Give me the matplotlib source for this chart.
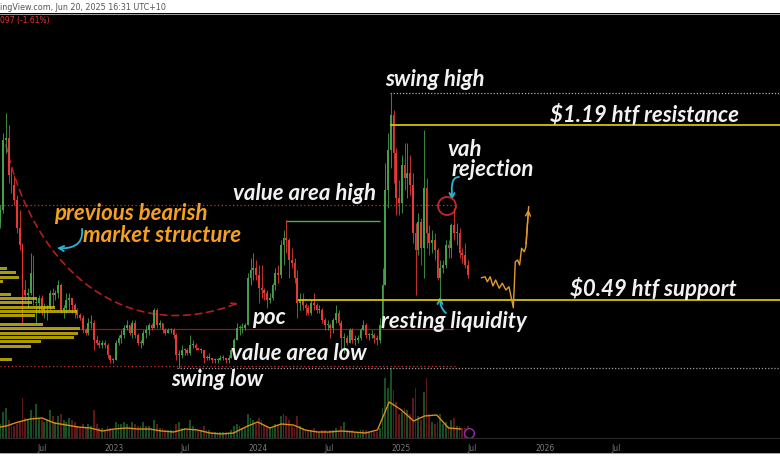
import numpy as np
import pandas as pd
import matplotlib
matplotlib.use('Agg')
import matplotlib.pyplot as plt
import matplotlib.dates as mdates
import matplotlib.transforms as mtransforms
from matplotlib.path import Path
from matplotlib.patches import FancyArrowPatch, Circle, Rectangle

# weekly candles, weeks starting Mon 2022-03-14
first_open = 0.80
closes = [
    0.85, 1.13, 1.14, 0.99, 0.95, 0.89, 0.78, 0.71, 0.53, 0.51, 0.52, 0.60,
    0.48, 0.48, 0.50, 0.45, 0.46, 0.46, 0.52, 0.51, 0.52, 0.55, 0.45, 0.46, 0.49,
    0.50, 0.47, 0.45, 0.43, 0.42, 0.37, 0.36, 0.40, 0.40, 0.33, 0.32, 0.31, 0.32,
    0.31, 0.27, 0.25, 0.25,
    # 2023
    0.32, 0.34, 0.35, 0.38, 0.39, 0.36, 0.40, 0.35, 0.32, 0.32, 0.36, 0.37, 0.39,
    0.38, 0.45, 0.39, 0.40, 0.37, 0.36, 0.37, 0.37, 0.35, 0.27, 0.27, 0.29, 0.29,
    0.28, 0.31, 0.31, 0.30, 0.29, 0.29, 0.26, 0.26, 0.26, 0.25, 0.25, 0.25, 0.26,
    0.26, 0.25, 0.26, 0.29, 0.33, 0.38, 0.38, 0.38, 0.39, 0.58, 0.61, 0.62, 0.59,
    # 2024
    0.54, 0.53, 0.52, 0.49, 0.50, 0.55, 0.60, 0.59, 0.71, 0.74, 0.73, 0.65, 0.64,
    0.58, 0.48, 0.49, 0.47, 0.46, 0.44, 0.48, 0.47, 0.45, 0.45, 0.41, 0.39, 0.39,
    0.38, 0.41, 0.44, 0.40, 0.34, 0.34, 0.32, 0.37, 0.33, 0.33, 0.34, 0.37, 0.39,
    0.35, 0.35, 0.35, 0.34, 0.33, 0.39, 0.55, 0.93, 1.09, 1.23, 1.08, 0.90, 0.88, 1.03,
    # 2025
    0.98, 1.00, 0.95, 0.76, 0.69, 0.80, 0.70, 0.94, 0.76, 0.72, 0.73, 0.69, 0.58,
    0.62, 0.63, 0.71, 0.70, 0.79, 0.76, 0.76, 0.68, 0.67, 0.63, 0.59,
]
highs = [
    0.87, 1.16, 1.24, 1.19, 1.02, 0.99, 0.91, 0.85, 0.72, 0.57, 0.54, 0.68,
    0.67, 0.50, 0.51, 0.51, 0.48, 0.47, 0.53, 0.54, 0.53, 0.57, 0.56, 0.47, 0.52,
    0.52, 0.50, 0.48, 0.46, 0.44, 0.43, 0.38, 0.42, 0.43, 0.41, 0.35, 0.33, 0.33,
    0.33, 0.32, 0.27, 0.26,
    0.33, 0.35, 0.37, 0.39, 0.41, 0.39, 0.41, 0.41, 0.36, 0.33, 0.37, 0.39, 0.40,
    0.40, 0.46, 0.46, 0.41, 0.40, 0.38, 0.38, 0.38, 0.38, 0.36, 0.29, 0.31, 0.30,
    0.30, 0.35, 0.33, 0.32, 0.30, 0.30, 0.29, 0.27, 0.28, 0.26, 0.26, 0.26, 0.27,
    0.27, 0.26, 0.27, 0.30, 0.34, 0.40, 0.39, 0.40, 0.40, 0.60, 0.66, 0.68, 0.65,
    0.63, 0.63, 0.54, 0.53, 0.52, 0.56, 0.62, 0.63, 0.73, 0.77, 0.81, 0.74, 0.70,
    0.66, 0.61, 0.52, 0.52, 0.48, 0.47, 0.49, 0.52, 0.48, 0.47, 0.46, 0.42, 0.41,
    0.40, 0.42, 0.47, 0.45, 0.41, 0.36, 0.35, 0.38, 0.38, 0.35, 0.35, 0.38, 0.41,
    0.40, 0.36, 0.37, 0.36, 0.35, 0.42, 0.62, 1.04, 1.16, 1.32, 1.25, 1.10, 0.97, 1.07,
    1.12, 1.12, 1.07, 1.00, 0.80, 0.84, 0.82, 1.17, 0.98, 0.79, 0.77, 0.76, 0.70,
    0.65, 0.65, 0.73, 0.73, 0.80, 0.86, 0.80, 0.78, 0.70, 0.72, 0.65,
]
lows = [
    0.78, 0.84, 1.08, 0.96, 0.92, 0.87, 0.76, 0.69, 0.40, 0.49, 0.46, 0.51,
    0.47, 0.40, 0.44, 0.43, 0.42, 0.41, 0.45, 0.46, 0.49, 0.50, 0.44, 0.42, 0.44,
    0.45, 0.44, 0.42, 0.42, 0.41, 0.36, 0.35, 0.35, 0.38, 0.29, 0.31, 0.30, 0.30,
    0.30, 0.26, 0.24, 0.24,
    0.25, 0.31, 0.32, 0.34, 0.37, 0.35, 0.34, 0.34, 0.31, 0.30, 0.31, 0.34, 0.35,
    0.37, 0.38, 0.38, 0.38, 0.36, 0.35, 0.36, 0.36, 0.34, 0.25, 0.22, 0.26, 0.27,
    0.27, 0.27, 0.30, 0.29, 0.29, 0.28, 0.24, 0.25, 0.25, 0.24, 0.24, 0.24, 0.25,
    0.25, 0.24, 0.24, 0.26, 0.29, 0.33, 0.35, 0.36, 0.37, 0.39, 0.55, 0.57, 0.57,
    0.48, 0.50, 0.49, 0.46, 0.48, 0.49, 0.53, 0.56, 0.58, 0.63, 0.68, 0.58, 0.62,
    0.56, 0.42, 0.45, 0.45, 0.43, 0.43, 0.43, 0.45, 0.44, 0.44, 0.40, 0.37, 0.37,
    0.34, 0.36, 0.40, 0.39, 0.28, 0.28, 0.31, 0.32, 0.32, 0.31, 0.32, 0.33, 0.37,
    0.34, 0.33, 0.34, 0.32, 0.31, 0.32, 0.38, 0.55, 0.86, 1.02, 0.96, 0.83, 0.83, 0.84,
    0.93, 0.90, 0.91, 0.72, 0.51, 0.67, 0.63, 0.58, 0.70, 0.67, 0.68, 0.65, 0.57,
    0.50, 0.60, 0.62, 0.66, 0.66, 0.73, 0.71, 0.66, 0.64, 0.62, 0.58,
]
volumes = [
    14, 26, 30, 18, 14, 12, 14, 16, 40, 20, 18, 28, 22, 34, 20, 18, 16, 18, 28, 22,
    16, 22, 24, 18, 16, 20, 18, 16, 12, 10, 14, 10, 14, 12, 28, 14, 10, 10, 8, 12, 10, 8,
    16, 14, 14, 16, 14, 12, 16, 14, 12, 12, 16, 12, 12, 10, 18, 14, 10, 10, 8, 8, 8, 8,
    14, 16, 10, 10, 8, 18, 12, 10, 8, 8, 12, 8, 8, 6, 6, 6, 6, 6, 6, 6, 8, 12,
    14, 12, 10, 10, 24, 20, 18, 14,
    20, 18, 12, 12, 10, 10, 14, 12, 22, 24, 22, 18, 12, 10, 22, 12, 10, 8, 8, 8, 10, 8,
    6, 8, 8, 6, 8, 8, 10, 8, 12, 16, 8, 8, 8, 6, 6, 8, 8, 8, 6, 6, 6, 6,
    10, 30, 60, 50, 70, 48, 36, 24, 26,
    30, 28, 24, 40, 50, 22, 18, 46, 60, 24, 16, 14, 16, 24, 14, 16, 12, 18, 20, 12, 12,
    10, 10, 12,
]
# volume moving average, monthly readings
vol_ma = [10, 12, 16, 19, 20, 15, 13, 11, 10, 7,
          9, 10, 9, 9, 7, 6, 9, 8, 5, 4, 5, 11,
          16, 10, 14, 13, 8, 6, 6, 7, 6, 5, 8, 36,
          28, 17, 22, 23, 10, 9]

# left volume profile
profile_prices = [0.617, 0.600, 0.582, 0.565, 0.548, 0.530, 0.513, 0.496, 0.479, 0.461, 0.444,
                  0.427, 0.409, 0.392, 0.375, 0.357, 0.340, 0.323, 0.305, 0.288, 0.271, 0.253]
profile_widths = [7, 16, 19, 3, 0, 0, 11, 37, 32, 55, 77, 35, 0, 43, 80, 78, 74, 41, 31, 0, 0, 12]

# key levels
swing_high = 1.32
resistance = 1.19
vah = 0.87
support = 0.49
poc = 0.374
val = 0.226
swing_low = 0.218
prior_high = 0.806

# hand-drawn projection
proj_dates = ['2025-07-24', '2025-08-02', '2025-08-08', '2025-08-15', '2025-08-22', '2025-08-29',
              '2025-09-07', '2025-09-15', '2025-09-24', '2025-10-02', '2025-10-13', '2025-10-18',
              '2025-10-24', '2025-10-29', '2025-11-03', '2025-11-10', '2025-11-14', '2025-11-21']
proj_prices = [0.579, 0.583, 0.563, 0.583, 0.546, 0.570, 0.537, 0.557, 0.530, 0.543, 0.459, 0.643,
               0.650, 0.630, 0.697, 0.683, 0.703, 0.863]

tick_dates = ['2022-07-01', '2023-01-01', '2023-07-01', '2024-01-01', '2024-07-01',
              '2025-01-01', '2025-07-01', '2026-01-01', '2026-07-01']
tick_labels = ['Jul', '2023', 'Jul', '2024', 'Jul', '2025', 'Jul', '2026', 'Jul']

W, H = 780, 470
fig = plt.figure(figsize=(W / 100, H / 100), dpi=100, facecolor='white')
px = mtransforms.Affine2D().scale(1 / W, -1 / H).translate(0, 1) + fig.transFigure

ax = fig.add_axes([0, 32 / H, 1, 425 / H])
vax = ax.twinx()
pax = ax.twiny()
vax.set_zorder(0)
ax.set_zorder(1)
pax.set_zorder(2)
vax.patch.set_visible(True)
vax.set_facecolor('black')
ax.patch.set_visible(False)
pax.patch.set_visible(False)

weeks = pd.date_range('2022-03-14', periods=len(closes), freq='7D')
x = mdates.date2num(weeks) + 3
c = np.array(closes)
o = np.concatenate([[first_open], c[:-1]])
up = c >= o
cols = np.where(up, '#43a047', '#e53935')

ax.vlines(x, lows, highs, colors=cols, lw=0.6, zorder=3)
ax.bar(x, np.maximum(np.abs(c - o), 0.004), bottom=np.minimum(o, c), width=4.5,
       color=cols, zorder=3)

xmin = mdates.date2num(pd.Timestamp('2022-03-16'))
xmax = mdates.date2num(pd.Timestamp('2027-08-23'))
ax.set_xlim(xmin, xmax)
ax.set_ylim(-0.062, 1.638)

# volume
vcols = np.where(up, '#1d5e27', '#6e1c1c')
vax.bar(x, volumes, width=4.5, color=vcols, alpha=0.85)
ma_x = mdates.date2num(pd.date_range('2022-03-01', periods=len(vol_ma), freq='MS'))
vax.plot(ma_x, vol_ma, color='#d98c1f', lw=1)
vax.plot(x[-1] + 4, 5, 'o', ms=7, mfc='black', mec='#9c27b0', mew=1)
vax.set_ylim(0, 425)
vax.set_yticks([])

# volume profile
pax.barh(profile_prices, profile_widths, height=0.012, color='#c9b60c', alpha=0.85)
pax.set_xlim(0, W)
pax.set_xticks([])

# levels
d = lambda s: mdates.date2num(pd.Timestamp(s))
ax.hlines(vah, xmin, d('2025-05-18'), colors='#d32f2f', lw=0.9, linestyles=(0, (1, 2)), zorder=2)
ax.hlines(val, xmin, d('2025-05-18'), colors='#d32f2f', lw=0.9, linestyles=(0, (1, 2)), zorder=2)
ax.hlines(poc, xmin, d('2025-05-15'), colors='#8e1b1b', lw=0.9, zorder=2)
ax.hlines(swing_low, d('2023-06-10'), xmax, colors='#9e9e9e', lw=0.9, linestyles=(0, (1, 1.5)), zorder=2)
ax.hlines(swing_high, d('2024-12-03'), xmax, colors='#b0b0b0', lw=0.9, linestyles=(0, (1, 1.5)), zorder=2)
ax.hlines(resistance, d('2024-12-04'), xmax, colors='#d4c200', lw=1.3, zorder=4)
ax.hlines(support, d('2024-04-13'), xmax, colors='#d4c200', lw=1.3, zorder=4)
ax.hlines(prior_high, d('2024-03-12'), d('2024-11-07'), colors='#4caf50', lw=1, zorder=4)

# projection
pdx = mdates.date2num(pd.to_datetime(proj_dates))
ax.plot(pdx, proj_prices, color='#e39a2d', lw=1, zorder=5)
ax.annotate('', xy=(pdx[-1], proj_prices[-1]), xytext=(pdx[-2], proj_prices[-2]),
            arrowprops=dict(arrowstyle='->', color='#e39a2d', lw=1, mutation_scale=9), zorder=5)

ax.set_xticks(mdates.date2num(pd.to_datetime(tick_dates)))
ax.set_xticklabels(tick_labels)
ax.tick_params(axis='x', length=0, pad=4, labelsize=5.5, labelcolor='#7a7a7a')
ax.set_yticks([])
for a in (ax, vax, pax):
    for s in a.spines.values():
        s.set_visible(False)

# chrome: header and bottom strip
fig.patches.append(Rectangle((0, 18 / H), 1, 14 / H, transform=fig.transFigure, color='black', zorder=-1))
fig.add_artist(plt.Line2D([0, 1], [1 - 13.5 / H] * 2, transform=fig.transFigure, color='#bdbdbd', lw=0.6))
fig.add_artist(plt.Line2D([0, 1], [1 - 438 / H] * 2, transform=fig.transFigure, color='#2b2b2b', lw=0.8))
fig.add_artist(plt.Line2D([0, 1], [1 - 452.5 / H] * 2, transform=fig.transFigure, color='#9e9e9e', lw=0.6))
fig.text(0, 1 - 7 / H, 'ingView.com, Jun 20, 2025 16:31 UTC+10', fontsize=5.8, color='#555555', va='center')
fig.text(0, 1 - 21 / H, '097 (-1.61%)', fontsize=5.5, color='#e53935', va='center')

# annotations
lab = dict(family='Lato', style='italic', weight='bold', fontsize=16, va='center', ha='left')
def note(xp, yp, s, color='#f2f2f2'):
    fig.text(xp / W, 1 - yp / H, s, color=color, **lab)

note(385, 80, 'swing high')
note(550, 115, '$1.19 htf resistance')
note(447, 150, 'vah')
note(452, 169, 'rejection')
note(233, 194, 'value area high')
note(54, 214, 'previous bearish', '#f5a020')
note(83, 236, 'market structure', '#f5a020')
note(252, 318, 'poc')
note(381, 321, 'resting liquidity')
note(570, 288, '$0.49 htf support')
note(231, 354, 'value area low')
note(171, 380, 'swing low')

def curve(pts, color, ls='-', lw=1.2, ms=9):
    p = Path(pts, [Path.MOVETO, Path.CURVE4, Path.CURVE4, Path.CURVE4])
    fig.add_artist(FancyArrowPatch(path=p, arrowstyle='->', mutation_scale=ms, color=color,
                                   lw=lw, linestyle=ls, transform=px))

curve([(6, 145), (35, 275), (130, 345), (238, 303)], '#b71c1c', ls=(0, (4, 3)))
curve([(82, 229), (84, 246), (70, 249), (57, 248)], '#29b6d6', lw=1.3)
curve([(459, 177), (450, 177), (452, 190), (452, 200)], '#29b6d6', lw=1.3)
curve([(446, 313), (441, 309), (440, 303), (440, 297)], '#29b6d6', lw=1.3)
fig.add_artist(Circle((447, 206), 9, transform=px, fill=False, ec='#c62828', lw=1.3))

fig.savefig('out.png', dpi=100, facecolor='white')
